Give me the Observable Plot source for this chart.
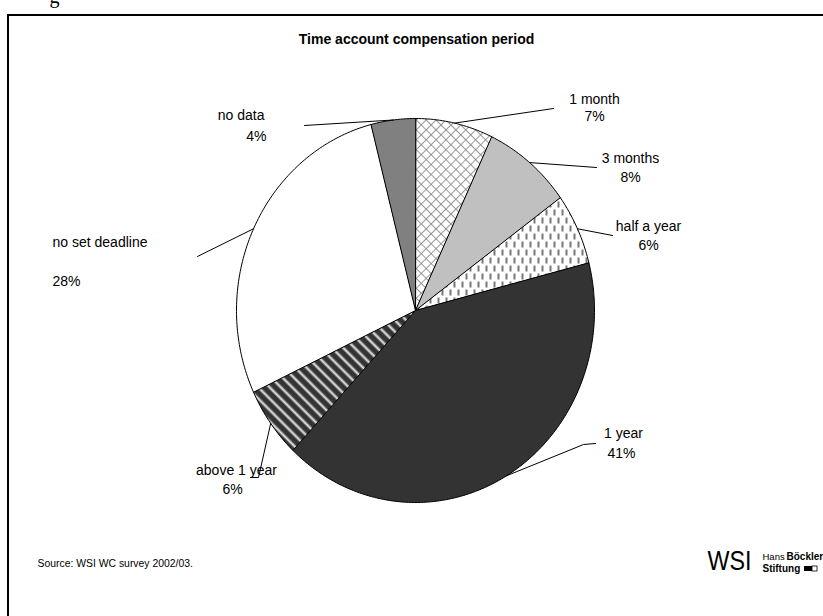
<!DOCTYPE html>
<html>
<head>
<meta charset="utf-8">
<script src="https://cdn.jsdelivr.net/npm/d3@7"></script>
<script src="https://cdn.jsdelivr.net/npm/@observablehq/plot@0.6"></script>
<style>
  html, body { margin: 0; padding: 0; background: #fff; }
  #chart svg { display: block; }
</style>
</head>
<body>
<div id="chart"></div>
<script>
// ---- data ----
const categories = ["1 month", "3 months", "half a year", "1 year", "above 1 year", "no set deadline", "no data"];
const shares = [7, 8, 6, 41, 6, 28, 4];
const title = "Time account compensation period";
const source = "Source: WSI WC survey 2002/03.";

// ---- styles / layout ----
const fills = ["url(#pCross)", "#c0c0c0", "url(#pDash)", "#333333", "url(#pStripe)", "#ffffff", "#808080"];
const W = 823, H = 616;
const pie = {cx: 415, cy: 310, rx: 179, ry: 192};
// label layout: name line, percent line, leader end points (label side)
const labelLayout = [
  {name: [594, 99, "middle"],  pct: [594, 116, "middle"], leader: [[553, 108]]},
  {name: [630, 158, "middle"], pct: [630, 177, "middle"], leader: [[596, 167]]},
  {name: [648, 226, "middle"], pct: [648, 245, "middle"], leader: [[612, 235]]},
  {name: [623, 433, "middle"], pct: [621, 453, "middle"], leader: [[583, 444], [595, 443]]},
  {name: [236, 470, "middle"], pct: [232, 489, "middle"], leader: [[258, 477], [250, 477]]},
  {name: [52, 242, "start"],   pct: [52, 281, "start"],   leader: [[197, 256]]},
  {name: [264, 115, "end"],    pct: [266, 136, "end"],    leader: [[304, 125]]}
];

// ---- build geometry from data ----
const total = d3.sum(shares);
const pt = (a, c) => ({cat: c, x: pie.cx + pie.rx * Math.sin(a), y: pie.cy - pie.ry * Math.cos(a)});
let cum = 0;
const slicePts = [];
const leaders = [];
const labelLines = [];
categories.forEach((c, i) => {
  const a0 = cum / total * 2 * Math.PI;
  cum += shares[i];
  const a1 = cum / total * 2 * Math.PI;
  const n = Math.max(2, Math.ceil((a1 - a0) / (Math.PI / 180)));
  const pts = [{cat: c, x: pie.cx, y: pie.cy}];
  for (let k = 0; k <= n; k++) pts.push(pt(a0 + (a1 - a0) * k / n, c));
  slicePts.push(pts);
  const L = labelLayout[i];
  leaders.push(pt((a0 + a1) / 2, c));
  L.leader.forEach(p => leaders.push({cat: c, x: p[0], y: p[1]}));
  const pct = Math.round(shares[i] / total * 100) + "%";
  labelLines.push({x: L.name[0], y: L.name[1], anchor: L.name[2], text: c});
  labelLines.push({x: L.pct[0], y: L.pct[1], anchor: L.pct[2], text: pct});
});

const font = "Liberation Sans, Arial, sans-serif";
const marks = [];
slicePts.forEach((pts, i) => {
  marks.push(Plot.line(pts, {x: "x", y: "y", curve: "linear-closed", fill: fills[i], stroke: "#000", strokeWidth: 1}));
});
marks.push(Plot.line(leaders, {x: "x", y: "y", z: "cat", stroke: "#000", strokeWidth: 1}));
["middle", "start", "end"].forEach(anc => {
  marks.push(Plot.text(labelLines.filter(d => d.anchor === anc), {
    x: "x", y: "y", text: "text", textAnchor: anc, lineAnchor: "middle",
    fontSize: 14, fontFamily: font, fill: "#000"
  }));
});
// frame
marks.push(Plot.rect([{x1: 8, y1: 15, x2: W + 20, y2: H + 20}], {x1: "x1", y1: "y1", x2: "x2", y2: "y2", fill: "none", stroke: "#000", strokeWidth: 2}));
// title
marks.push(Plot.text([title], {x: () => 416, y: () => 39, text: d => d, fontSize: 14, fontWeight: "bold", fontFamily: font, fill: "#000", lineAnchor: "middle"}));
// cut-off fragment above the frame
marks.push(Plot.text(["g"], {x: () => 54, y: () => 2, text: d => d, fontSize: 20, fontFamily: "Liberation Serif, serif", fill: "#000", lineAnchor: "bottom"}));
// source
marks.push(Plot.text([source], {x: () => 37, y: () => 563, text: d => d, fontSize: 10.4, fontFamily: "Liberation Sans Narrow, Liberation Sans, sans-serif", textAnchor: "start", fill: "#000", lineAnchor: "middle"}));
// logo
marks.push(Plot.text(["WSI"], {x: () => 707, y: () => 561, text: d => d, fontSize: 28, fontFamily: "Liberation Sans Narrow, Liberation Sans, sans-serif", textAnchor: "start", fill: "#000", lineAnchor: "middle"}));
marks.push(Plot.text(["Hans"], {x: () => 762, y: () => 556, text: d => d, fontSize: 9.5, fontFamily: "Liberation Sans Narrow, sans-serif", textAnchor: "start", fill: "#000", lineAnchor: "middle"}));
marks.push(Plot.text(["Böckler"], {x: () => 786, y: () => 556, text: d => d, fontSize: 10, fontWeight: "bold", fontFamily: "Liberation Sans Narrow, sans-serif", textAnchor: "start", fill: "#000", lineAnchor: "middle"}));
marks.push(Plot.text(["Stiftung"], {x: () => 762, y: () => 568, text: d => d, fontSize: 10, fontWeight: "bold", fontFamily: "Liberation Sans, sans-serif", textAnchor: "start", fill: "#000", lineAnchor: "middle"}));
marks.push(Plot.rect([{x1: 804, x2: 812, y1: 566, y2: 571}], {x1: "x1", x2: "x2", y1: "y1", y2: "y2", fill: "#000"}));
marks.push(Plot.rect([{x1: 812, x2: 817, y1: 566, y2: 571}], {x1: "x1", x2: "x2", y1: "y1", y2: "y2", fill: "#fff", stroke: "#000", strokeWidth: 0.8}));

const svg = Plot.plot({
  width: W, height: H, margin: 0,
  x: {domain: [0, W], range: [0, W], axis: null},
  y: {domain: [0, H], range: [0, H], axis: null},
  style: {background: "#fff", fontFamily: font},
  marks
});

// condense the WSI logo letters to fit before the foundation name
d3.select(svg).selectAll("text").filter(function() { return this.textContent === "WSI"; })
  .attr("textLength", 44).attr("lengthAdjust", "spacingAndGlyphs");

svg.insertAdjacentHTML("afterbegin", `
<defs>
  <pattern id="pCross" patternUnits="userSpaceOnUse" width="7" height="7" patternTransform="rotate(45)">
    <rect width="7" height="7" fill="#fff"/>
    <line x1="0" y1="0" x2="0" y2="7" stroke="#808080" stroke-width="1.6"/>
    <line x1="0" y1="0" x2="7" y2="0" stroke="#808080" stroke-width="1.6"/>
  </pattern>
  <pattern id="pDash" patternUnits="userSpaceOnUse" width="8" height="16">
    <rect width="8" height="16" fill="#fff"/>
    <line x1="2" y1="1" x2="2" y2="7" stroke="#555" stroke-width="1.6"/>
    <line x1="6" y1="9" x2="6" y2="15" stroke="#555" stroke-width="1.6"/>
  </pattern>
  <linearGradient id="gStripe" x1="0" x2="1" y1="0" y2="0">
    <stop offset="0" stop-color="#333"/>
    <stop offset="0.35" stop-color="#333"/>
    <stop offset="0.6" stop-color="#fff"/>
    <stop offset="0.85" stop-color="#333"/>
    <stop offset="1" stop-color="#333"/>
  </linearGradient>
  <pattern id="pStripe" patternUnits="userSpaceOnUse" width="8" height="8" patternTransform="rotate(-45)">
    <rect width="8" height="8" fill="url(#gStripe)"/>
  </pattern>
</defs>`);

document.getElementById("chart").appendChild(svg);
</script>
</body>
</html>
